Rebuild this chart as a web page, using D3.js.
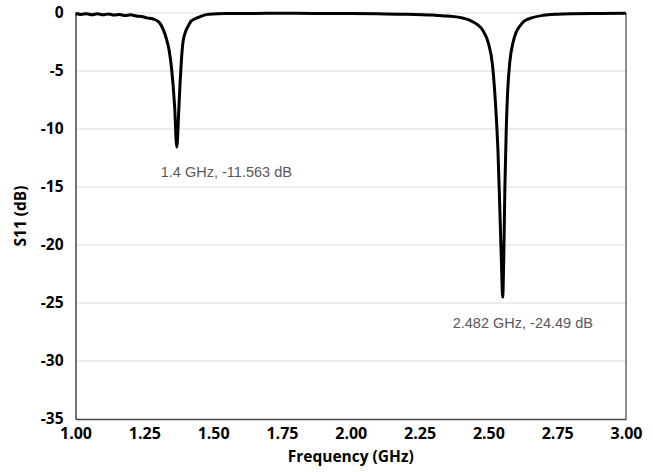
<!DOCTYPE html>
<html>
<head>
<meta charset="utf-8">
<script src="https://cdn.jsdelivr.net/npm/d3@7"></script>
<style>
  body { margin: 0; background: #fff; }
  svg { display: block; }
</style>
</head>
<body>
<div id="chart"></div>
<script>
// data

const freq = [
  1.00, 1.02, 1.04, 1.06, 1.08, 1.10, 1.12, 1.14, 1.16, 1.18,
  1.20, 1.22, 1.24, 1.26, 1.28, 1.30, 1.31, 1.32, 1.33, 1.34,
  1.35, 1.36, 1.368, 1.375, 1.38, 1.385, 1.39, 1.40, 1.41, 1.42,
  1.44, 1.46, 1.48, 1.50, 1.55, 1.60, 1.70, 1.80, 1.90, 2.00,
  2.10, 2.20, 2.30, 2.35, 2.40, 2.43, 2.46, 2.48, 2.50, 2.515,
  2.525, 2.535, 2.543, 2.548, 2.552, 2.556, 2.560, 2.565, 2.570, 2.578,
  2.59, 2.60, 2.615, 2.63, 2.66, 2.70, 2.75, 2.80, 2.90, 3.00
];

const s11 = [
  -0.05, -0.12, -0.06, -0.15, -0.07, -0.16, -0.08, -0.18, -0.12, -0.22,
  -0.16, -0.26, -0.30, -0.42, -0.50, -0.72, -1.0, -1.5, -2.2, -3.2,
  -5.0, -8.0, -11.563, -8.5, -6.0, -4.0, -2.6, -1.6, -1.1, -0.7,
  -0.45, -0.25, -0.12, -0.08, -0.05, -0.04, -0.03, -0.03, -0.04, -0.05,
  -0.07, -0.10, -0.18, -0.26, -0.40, -0.60, -1.0, -1.5, -2.6, -4.5,
  -7.5, -12.0, -18.0, -22.0, -24.49, -21.0, -15.0, -10.0, -6.8, -4.2,
  -2.5, -1.7, -1.1, -0.7, -0.4, -0.2, -0.1, -0.06, -0.04, -0.03
];

const xTicks = [1.00, 1.25, 1.50, 1.75, 2.00, 2.25, 2.50, 2.75, 3.00];
const yTicks = [0, -5, -10, -15, -20, -25, -30, -35];

// marker labels: which data point they belong to, and their text
const markerIndex = [22, 54];
const markerText = ["1.4 GHz, -11.563 dB", "2.482 GHz, -24.49 dB"];

// config

const width = 653;
const height = 472;
const margin = { top: 13, right: 27, bottom: 53, left: 75.5 };

const data = freq.map((f, i) => ({ f: f, db: s11[i] }));

// scales

const xScale = d3.scaleLinear()
  .domain([1, 3])
  .range([margin.left, width - margin.right]);

const yScale = d3.scaleLinear()
  .domain([-35, 0])
  .range([height - margin.bottom, margin.top]);

const svg = d3.select("#chart")
  .append("svg")
  .attr("width", width)
  .attr("height", height)
  .attr("viewBox", [0, 0, width, height]);

// grid lines

svg.append("g")
  .selectAll("line")
  .data(yTicks.filter(d => d > -35))
  .join("line")
  .attr("x1", margin.left)
  .attr("x2", width - margin.right)
  .attr("y1", d => yScale(d))
  .attr("y2", d => yScale(d))
  .attr("stroke", "#dcdcdc")
  .attr("stroke-width", 1);

// right border

svg.append("line")
  .attr("x1", width - margin.right)
  .attr("x2", width - margin.right)
  .attr("y1", yScale(0))
  .attr("y2", yScale(-35))
  .attr("stroke", "#444")
  .attr("stroke-width", 1.2);

// axes

const xAxis = d3.axisBottom(xScale)
  .tickValues(xTicks)
  .tickFormat(d3.format(".2f"))
  .tickSize(0)
  .tickPadding(9);

const yAxis = d3.axisLeft(yScale)
  .tickValues(yTicks)
  .tickFormat(d => d3.format("d")(d).replace("−", "-"))
  .tickSize(0)
  .tickPadding(12);

svg.append("g")
  .attr("transform", "translate(0," + (height - margin.bottom) + ")")
  .call(xAxis)
  .call(g => g.select(".domain").attr("stroke", "#444").attr("stroke-width", 1.5))
  .call(g => g.selectAll(".tick text")
    .attr("fill", "#000")
    .attr("font-family", "'Open Sans', sans-serif")
    .attr("font-weight", "bold")
    .attr("font-size", 16));

svg.append("g")
  .attr("transform", "translate(" + margin.left + ",0)")
  .call(yAxis)
  .call(g => g.select(".domain").attr("stroke", "#444").attr("stroke-width", 1.5))
  .call(g => g.selectAll(".tick text")
    .attr("fill", "#000")
    .attr("font-family", "'Open Sans', sans-serif")
    .attr("font-weight", "bold")
    .attr("font-size", 15.5));

// axis titles

svg.append("text")
  .attr("x", xScale(2))
  .attr("y", height - 10)
  .attr("text-anchor", "middle")
  .attr("font-family", "'Open Sans', sans-serif")
  .attr("font-weight", "bold")
  .attr("font-size", 15.5)
  .attr("fill", "#000")
  .text("Frequency (GHz)");

svg.append("text")
  .attr("transform", "translate(26," + yScale(-17.5) + ") rotate(-90)")
  .attr("text-anchor", "middle")
  .attr("font-family", "'Open Sans', sans-serif")
  .attr("font-weight", "bold")
  .attr("font-size", 15.5)
  .attr("fill", "#000")
  .text("S11 (dB)");

// the trace

const line = d3.line()
  .x(d => xScale(d.f))
  .y(d => yScale(d.db))
  .curve(d3.curveMonotoneX);

svg.append("path")
  .datum(data)
  .attr("d", line)
  .attr("fill", "none")
  .attr("stroke", "#000")
  .attr("stroke-width", 3)
  .attr("stroke-linejoin", "round");

// marker labels, placed under each dip

const labelOffset = [{ dx: -16, dy: 30 }, { dx: -50, dy: 31 }];

svg.selectAll("text.marker")
  .data(markerIndex)
  .join("text")
  .attr("class", "marker")
  .attr("x", (d, i) => xScale(data[d].f) + labelOffset[i].dx)
  .attr("y", (d, i) => yScale(data[d].db) + labelOffset[i].dy)
  .attr("font-family", "'Liberation Sans', Arial, sans-serif")
  .attr("font-size", 14.5)
  .attr("fill", "#595959")
  .text((d, i) => markerText[i]);
</script>
</body>
</html>
